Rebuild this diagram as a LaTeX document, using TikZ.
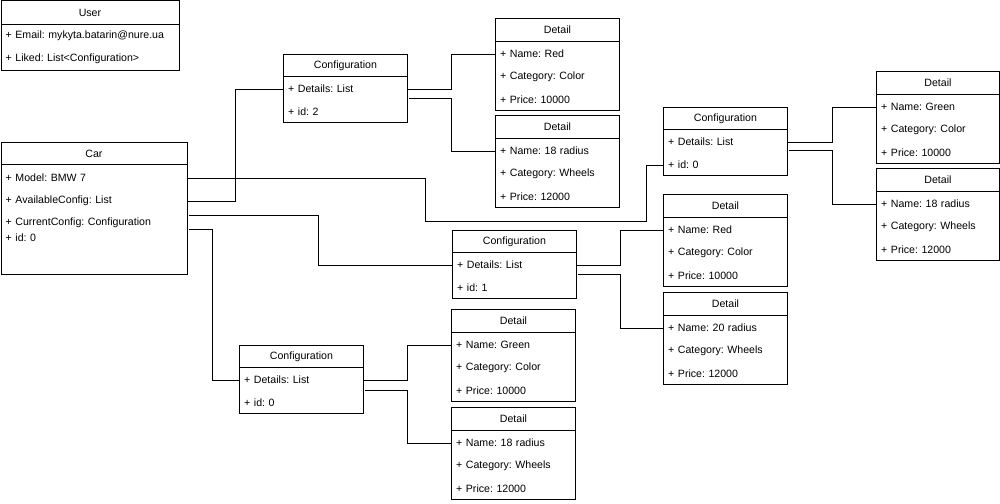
\documentclass[tikz,border=0pt]{standalone}
\usepackage{fontspec}
\setmainfont{Liberation Sans}
\frenchspacing
\tikzset{
  box/.style={draw, line width=0.9pt, anchor=north west, inner sep=0pt},
  hdr/.style={draw, line width=0.9pt, anchor=north west, inner sep=0pt, minimum height=23pt},
  row/.style={anchor=west, inner xsep=5pt, inner ysep=0pt, align=left},
  link/.style={draw, line width=0.9pt},
}
\newcommand{\detailbox}[7]{%
  \node[box, minimum width=#7pt, minimum height=92pt] (#1) at (#2,#3) {};
  \node[hdr, minimum width=#7pt] (#1h) at (#2,#3) {Detail};
  \node[row, text width=114pt] (#1n) at (#2,#3+36) {+ Name: #4};
  \node[row, text width=114pt] (#1c) at (#2,#3+59) {+ Category: #5};
  \node[row, text width=114pt] (#1p) at (#2,#3+82) {+ Price: #6};
}
\newcommand{\configbox}[4]{%
  \node[box, minimum width=124pt, minimum height=68pt] (#1) at (#2,#3) {};
  \node[hdr, minimum width=124pt, minimum height=22pt] (#1h) at (#2,#3) {Configuration};
  \node[row, text width=114pt] (#1d) at (#2,#3+35) {+ Details: List};
  \node[row, text width=114pt] (#1i) at (#2,#3+58) {+ id: #4};
}
\begin{document}
\begin{tikzpicture}[x=1pt,y=-1pt,font=\fontsize{10.6}{12}\selectfont]
\useasboundingbox (0,0) rectangle (1000,503);
% User
\node[box, minimum width=178pt, minimum height=69pt] (user) at (0.5,0.5) {};
\node[hdr, minimum width=178pt, minimum height=24pt] (userh) at (0.5,0.5) {User};
\node[row, text width=168pt] (usere) at (0.5,36) {+ Email: mykyta.batarin@nure.ua};
\node[row, text width=168pt] (userl) at (0.5,59) {+ Liked: List<Configuration>};
% Car
\node[box, minimum width=186pt, minimum height=132pt] (car) at (0.5,142) {};
\node[hdr, minimum width=186pt, minimum height=22pt] (carh) at (0.5,142) {Car};
\node[row, text width=176pt] (carm) at (0.5,178) {+ Model: BMW 7};
\node[row, text width=176pt] (cara) at (0.5,201) {+ AvailableConfig: List};
\node[row, text width=176pt] (carc) at (0.5,223) {+ CurrentConfig: Configuration};
\node[row, text width=176pt] (cari) at (0.5,238) {+ id: 0};
% Configurations
\configbox{ctop}{283}{54}{2}
\configbox{cright}{663}{107}{0}
\configbox{cmid}{452}{230}{1}
\configbox{cbot}{239}{345}{0}
% Details
\detailbox{da}{495}{18}{Red}{Color}{10000}{124}
\detailbox{db}{495}{115}{18 radius}{Wheels}{12000}{124}
\detailbox{dc}{876}{71}{Green}{Color}{10000}{123}
\detailbox{dd}{876}{168}{18 radius}{Wheels}{12000}{123}
\detailbox{de}{663}{194}{Red}{Color}{10000}{124}
\detailbox{df}{663}{292}{20 radius}{Wheels}{12000}{124}
\detailbox{dg}{451}{309}{Green}{Color}{10000}{124}
\detailbox{dh}{451}{407}{18 radius}{Wheels}{12000}{124}
% Car connectors
\draw[link] (carm.east) -- ++(239,0) -- ++(0,43) -- ++(221,0) |- (crighti.west);
\draw[link] (cara.east) -- ++(49,0) |- (ctopd.west);
\draw[link] ([shift={(2,-8)}]carc.east) -- ++(130,0) |- (cmidd.west);
\draw[link] ([shift={(2,-9)}]cari.east) -- ++(24,0) |- (cbotd.west);
% Config -> Detail connectors
\draw[link] (ctopd.east) -- ++(44,0) |- (dan.west);
\draw[link] ([shift={(2,9)}]ctopd.east) -- ++(42,0) |- (dbn.west);
\draw[link] (crightd.east) -- ++(45,0) |- (dcn.west);
\draw[link] ([shift={(2,8)}]crightd.east) -- ++(43,0) |- (ddn.west);
\draw[link] (cmidd.east) -- ++(44,0) |- (den.west);
\draw[link] ([shift={(2,9)}]cmidd.east) -- ++(42,0) |- (dfn.west);
\draw[link] (cbotd.east) -- ++(44,0) |- (dgn.west);
\draw[link] ([shift={(2,10)}]cbotd.east) -- ++(42,0) |- (dhn.west);
\end{tikzpicture}
\end{document}
